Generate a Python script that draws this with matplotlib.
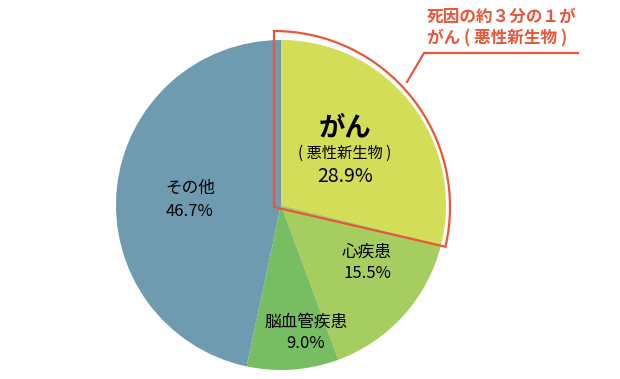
import matplotlib.pyplot as plt
from matplotlib.patches import Wedge

plt.rcParams['font.family'] = ['Noto Sans CJK JP', 'DejaVu Sans']

# Data
labels = ['がん', '心疾患', '脳血管疾患', 'その他']
shares = [28.9, 15.5, 9.0, 46.7]
colors = ['#D3DD58', '#A6CD5F', '#76BE61', '#6E9BAF']
red = '#E8573A'

W, H = 620, 379
fig = plt.figure(figsize=(W / 100, H / 100), dpi=100)
ax = fig.add_axes([0, 0, 1, 1])

def py(y):
    # pixel row -> data y
    return H - y

cx, cy, r = 281, py(205), 165
ax.pie(shares, colors=colors, startangle=90, counterclock=False,
       center=(cx, cy), radius=r, frame=True,
       wedgeprops=dict(linewidth=0))
ax.set_xlim(0, W)
ax.set_ylim(0, H)
ax.set_aspect('equal')
ax.axis('off')

# red outline around cancer wedge
end_ang = 90 - shares[0] / 100 * 360
ax.add_patch(Wedge((274, py(207)), 176, end_ang + 1, 90, fill=False,
                   edgecolor=red, linewidth=1.6))

# callout line + text
ax.plot([407, 424, 578], [py(82), py(53), py(53)], color=red, lw=1.6)
ax.text(427, py(17), '死因の約３分の１が', color=red, fontsize=12,
        fontweight='bold', va='center', ha='left')
ax.text(427, py(38), 'がん ( 悪性新生物 )', color=red, fontsize=12,
        fontweight='bold', va='center', ha='left')

# slice labels
ax.text(345, py(128), 'がん', fontsize=19, fontweight='bold', ha='center', va='center')
ax.text(345, py(153), '( 悪性新生物 )', fontsize=11, ha='center', va='center')
ax.text(345, py(176), f'{shares[0]}%', fontsize=14, ha='center', va='center')

ax.text(367, py(252), labels[1], fontsize=12, ha='center', va='center')
ax.text(367, py(274), f'{shares[1]}%', fontsize=12, ha='center', va='center')

ax.text(306, py(322), labels[2], fontsize=12, ha='center', va='center')
ax.text(306, py(344), f'{shares[2]}%', fontsize=12, ha='center', va='center')

ax.text(190, py(188), labels[3], fontsize=12, ha='center', va='center')
ax.text(190, py(212), f'{shares[3]}%', fontsize=12, ha='center', va='center')

fig.savefig('out.png', dpi=100)
